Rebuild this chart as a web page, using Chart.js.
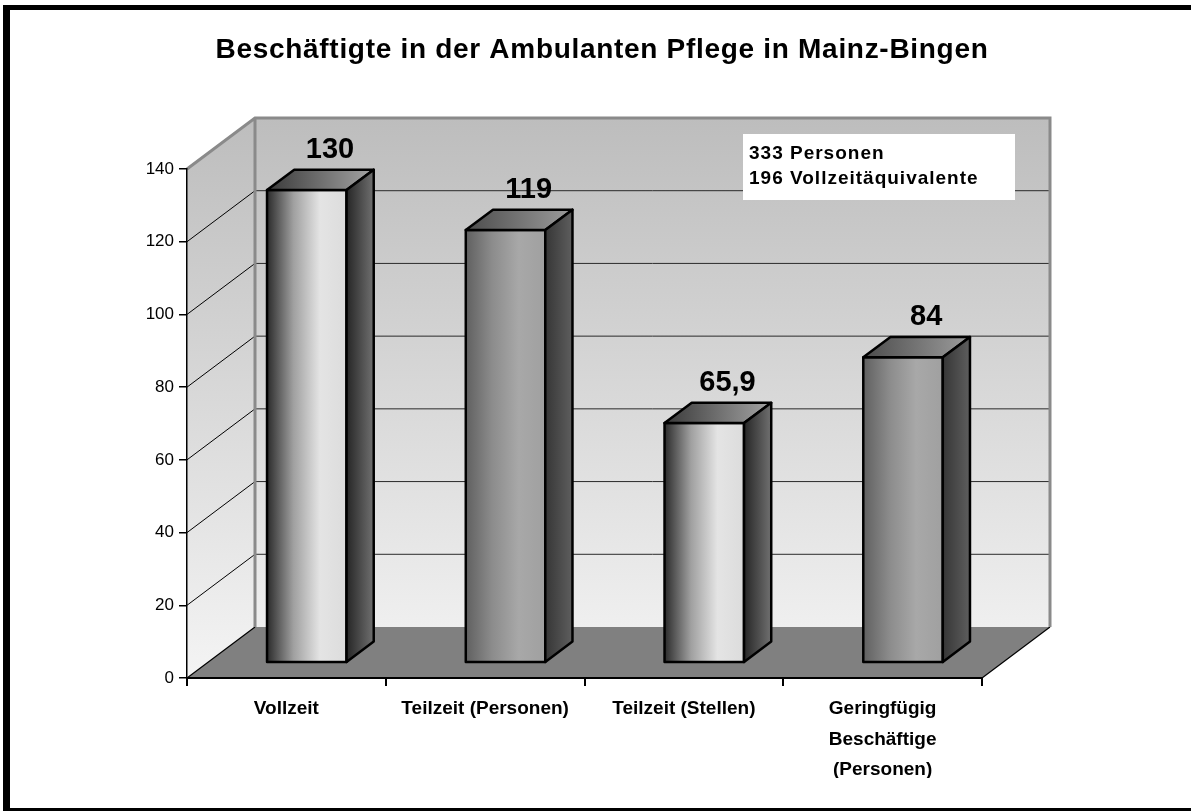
<!DOCTYPE html>
<html lang="de">
<head>
<meta charset="utf-8">
<title>Beschäftigte in der Ambulanten Pflege in Mainz-Bingen</title>
<script src="https://cdn.jsdelivr.net/npm/chart.js@4.4.1/dist/chart.umd.min.js"></script>
<style>
  html, body { margin: 0; padding: 0; background: #fff; }
  canvas { display: block; }
</style>
</head>
<body>
<canvas id="chart" width="1191" height="811"></canvas>
<script>
const chartTitle = 'Beschäftigte in der Ambulanten Pflege in Mainz-Bingen';
const categories = ['Vollzeit', 'Teilzeit (Personen)', 'Teilzeit (Stellen)', ['Geringfügig', 'Beschäftige', '(Personen)']];
const values = [130, 119, 65.9, 84];
const valueLabels = ['130', '119', '65,9', '84'];
const yMin = 0;
const yMax = 140;
const yStep = 20;
const noteLines = ['333 Personen', '196 Vollzeitäquivalente'];

const FONT = "'Liberation Sans', Arial, Helvetica, sans-serif";
const DEPTH = { x: 68, y: -51 };
const BAR_FRONT = 0.3;
const BAR_BACK = 0.7;

// two shading styles, alternating like the original
const barStyles = [
    { front: ['#2b2b2b', '#a0a0a0', '#e4e4e4', '#dcdcdc'], top: ['#3a3a3a', '#a4a4a4'], side: ['#262626', '#707070'] },
    { front: ['#606060', '#8c8c8c', '#a8a8a8', '#a0a0a0'], top: ['#4c4c4c', '#9c9c9c'], side: ['#363636', '#5e5e5e'] },
];

const hGrad = (ctx, x0, x1, colors) => {
    const g = ctx.createLinearGradient(x0, 0, x1, 0);
    colors.forEach((c, i) => g.addColorStop(i / (colors.length - 1), c));
    return g;
};

const poly = (ctx, pts) => {
    ctx.beginPath();
    ctx.moveTo(pts[0][0], pts[0][1]);
    pts.slice(1).forEach(p => ctx.lineTo(p[0], p[1]));
    ctx.closePath();
};

const drawBar = (ctx, x0, x1, yTop, yBase, st) => {
    const fx = DEPTH.x * BAR_FRONT, fy = DEPTH.y * BAR_FRONT;
    const bx = DEPTH.x * BAR_BACK, by = DEPTH.y * BAR_BACK;
    ctx.lineWidth = 2.5;
    ctx.lineJoin = 'round';
    ctx.strokeStyle = '#000';

    // front face
    poly(ctx, [[x0 + fx, yTop + fy], [x1 + fx, yTop + fy], [x1 + fx, yBase + fy], [x0 + fx, yBase + fy]]);
    ctx.fillStyle = hGrad(ctx, x0 + fx, x1 + fx, st.front);
    ctx.fill();
    ctx.stroke();

    // top face
    poly(ctx, [[x0 + fx, yTop + fy], [x1 + fx, yTop + fy], [x1 + bx, yTop + by], [x0 + bx, yTop + by]]);
    ctx.fillStyle = hGrad(ctx, x0 + fx, x1 + bx, st.top);
    ctx.fill();
    ctx.stroke();

    // side face
    poly(ctx, [[x1 + fx, yTop + fy], [x1 + bx, yTop + by], [x1 + bx, yBase + by], [x1 + fx, yBase + fy]]);
    ctx.fillStyle = hGrad(ctx, x1 + fx, x1 + bx, st.side);
    ctx.fill();
    ctx.stroke();
};

const box3d = {
    id: 'box3d',
    beforeDraw(chart) {
        const { ctx, chartArea, scales } = chart;
        const y = scales.y;
        const left = chartArea.left, right = chartArea.right;
        const top = y.getPixelForValue(yMax), bottom = y.getPixelForValue(yMin);
        const dx = DEPTH.x, dy = DEPTH.y;

        ctx.save();
        ctx.fillStyle = '#fff';
        ctx.fillRect(0, 0, chart.width, chart.height);

        // frame
        ctx.fillStyle = '#000';
        ctx.fillRect(3, 5, chart.width, 5);
        ctx.fillRect(3, 5, 7, chart.height);
        ctx.fillRect(3, chart.height - 3, chart.width, 3);

        // back wall
        const wall = ctx.createLinearGradient(0, top + dy, 0, bottom);
        wall.addColorStop(0, '#bdbdbd');
        wall.addColorStop(1, '#f4f4f4');
        ctx.fillStyle = wall;
        ctx.fillRect(left + dx, top + dy, right - left, bottom - top);
        // side wall
        poly(ctx, [[left, top], [left + dx, top + dy], [left + dx, bottom + dy], [left, bottom]]);
        ctx.fill();
        // floor
        poly(ctx, [[left, bottom], [right, bottom], [right + dx, bottom + dy], [left + dx, bottom + dy]]);
        ctx.fillStyle = '#808080';
        ctx.fill();

        // grid on walls
        ctx.lineWidth = 1;
        y.ticks.forEach(t => {
            if (t.value <= yMin || t.value >= yMax) return;
            const yp = y.getPixelForValue(t.value);
            ctx.strokeStyle = '#2a2a2a';
            ctx.beginPath();
            ctx.moveTo(left + dx, yp + dy);
            ctx.lineTo(right + dx, yp + dy);
            ctx.stroke();
            ctx.strokeStyle = '#000';
            ctx.beginPath();
            ctx.moveTo(left, yp);
            ctx.lineTo(left + dx, yp + dy);
            ctx.stroke();
        });

        // floor edges
        ctx.strokeStyle = '#000';
        ctx.lineWidth = 1.2;
        ctx.beginPath();
        ctx.moveTo(left, bottom);
        ctx.lineTo(left + dx, bottom + dy);
        ctx.moveTo(right, bottom);
        ctx.lineTo(right + dx, bottom + dy);
        ctx.stroke();

        // wall edges
        ctx.strokeStyle = '#8a8a8a';
        ctx.lineWidth = 3;
        ctx.lineJoin = 'miter';
        ctx.beginPath();
        ctx.moveTo(left, top);
        ctx.lineTo(left + dx, top + dy);
        ctx.lineTo(right + dx, top + dy);
        ctx.lineTo(right + dx, bottom + dy);
        ctx.moveTo(left + dx, top + dy);
        ctx.lineTo(left + dx, bottom + dy);
        ctx.stroke();

        // title
        ctx.fillStyle = '#000';
        ctx.font = `bold 28px ${FONT}`;
        ctx.letterSpacing = '0.7px';
        ctx.textAlign = 'center';
        ctx.textBaseline = 'alphabetic';
        ctx.fillText(chartTitle, 602, 58);
        ctx.restore();
    },
    afterDatasetsDraw(chart) {
        const { ctx } = chart;
        const meta = chart.getDatasetMeta(0);
        ctx.save();
        meta.data.forEach((bar, i) => {
            const { x, y, base, width } = bar.getProps(['x', 'y', 'base', 'width'], true);
            drawBar(ctx, x - width / 2, x + width / 2, y, base, barStyles[i % 2]);
            ctx.fillStyle = '#000';
            ctx.font = `bold 29px ${FONT}`;
            ctx.textAlign = 'center';
            ctx.textBaseline = 'alphabetic';
            ctx.fillText(valueLabels[i], x + DEPTH.x * BAR_BACK - 4, y + DEPTH.y * BAR_BACK - 12);
        });

        // note box
        ctx.fillStyle = '#fff';
        ctx.fillRect(743, 134, 272, 66);
        ctx.fillStyle = '#000';
        ctx.font = `bold 19px ${FONT}`;
        ctx.letterSpacing = '1px';
        ctx.textAlign = 'left';
        noteLines.forEach((line, i) => ctx.fillText(line, 749, 159 + i * 25));
        ctx.restore();
    }
};

new Chart(document.getElementById('chart'), {
    type: 'bar',
    data: {
        labels: categories,
        datasets: [{
            data: values,
            backgroundColor: 'rgba(0,0,0,0)',
            borderWidth: 0,
            barPercentage: 1,
            categoryPercentage: 0.4,
        }]
    },
    options: {
        responsive: false,
        animation: false,
        layout: { padding: { left: 10, right: 209, top: 169, bottom: 33 } },
        plugins: {
            legend: { display: false },
            tooltip: { enabled: false },
            title: { display: false },
        },
        scales: {
            x: {
                grid: { offset: true, drawOnChartArea: false, tickLength: 8, color: '#000', lineWidth: 2 },
                border: { color: '#000', width: 2 },
                ticks: {
                    color: '#000',
                    font: { family: FONT, size: 19, weight: 'bold', lineHeight: 1.6 },
                    padding: 8,
                    maxRotation: 0,
                    autoSkip: false,
                },
                afterFit: (s) => { s.height = 100; },
            },
            y: {
                min: yMin,
                max: yMax,
                ticks: {
                    stepSize: yStep,
                    color: '#000',
                    font: { family: FONT, size: 17 },
                    padding: 5,
                },
                grid: { drawOnChartArea: false, tickLength: 8, color: '#000', lineWidth: 1.5 },
                border: { color: '#000', width: 1.5 },
                afterFit: (s) => { s.width = 177; },
            }
        }
    },
    plugins: [box3d]
});
</script>
</body>
</html>
